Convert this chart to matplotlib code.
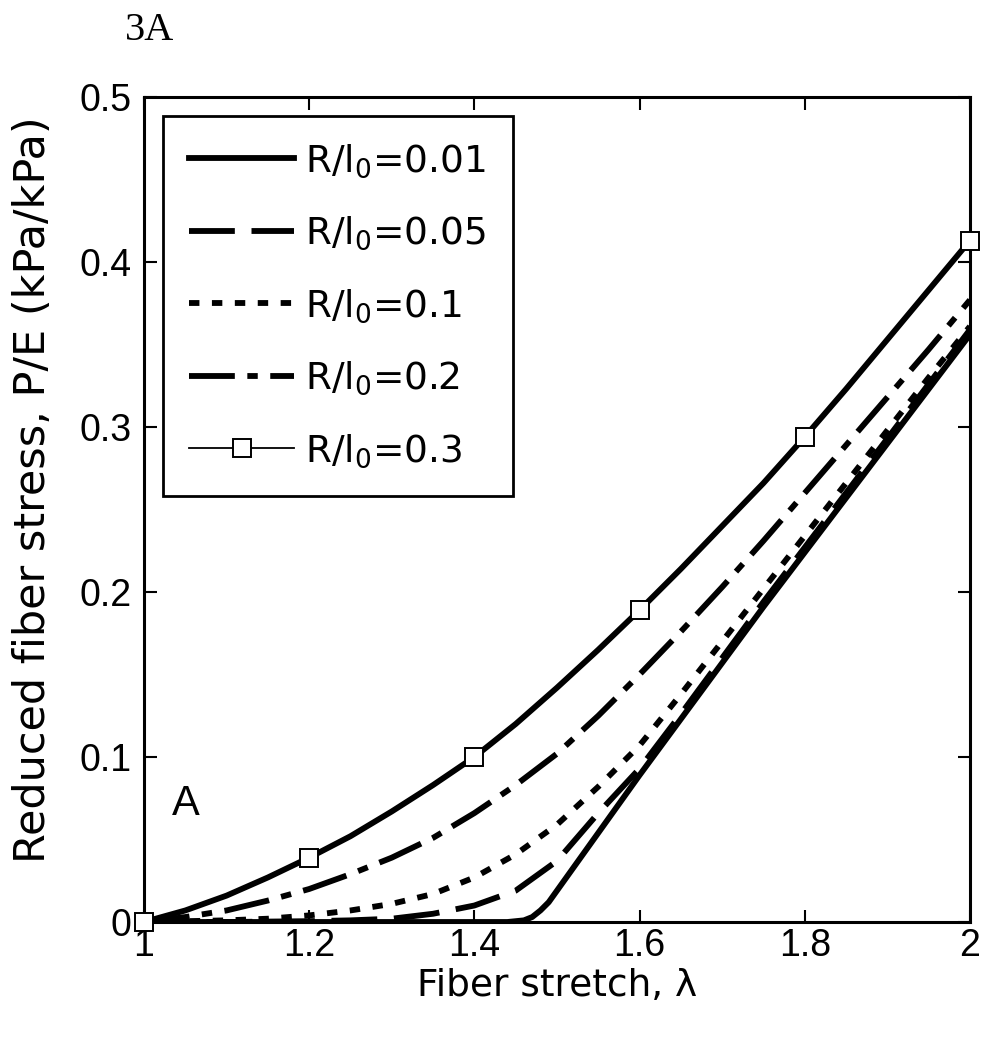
import matplotlib
matplotlib.use("Agg")
import matplotlib.pyplot as plt

plt.rcParams['font.family'] = ['Liberation Sans', 'DejaVu Sans']
plt.rcParams['mathtext.fontset'] = 'dejavusans'
plt.rcParams['lines.scale_dashes'] = False

# ---- data ----
x_fine = [1.0, 1.05, 1.1, 1.15, 1.2, 1.25, 1.3, 1.35, 1.4, 1.45, 1.5,
          1.55, 1.6, 1.65, 1.7, 1.75, 1.8, 1.85, 1.9, 1.95, 2.0]
y_r03 = [0.0, 0.007, 0.016, 0.027, 0.039, 0.052, 0.067, 0.083, 0.100, 0.120, 0.142,
         0.165, 0.189, 0.214, 0.240, 0.266, 0.294, 0.323, 0.353, 0.383, 0.413]
y_r02 = [0.0, 0.003, 0.007, 0.013, 0.020, 0.029, 0.039, 0.051, 0.066, 0.083, 0.102,
         0.125, 0.150, 0.176, 0.203, 0.231, 0.260, 0.289, 0.318, 0.347, 0.377]
y_r01 = [0.0, 0.0005, 0.001, 0.002, 0.004, 0.007, 0.011, 0.017, 0.027, 0.041, 0.059,
         0.082, 0.107, 0.138, 0.170, 0.202, 0.234, 0.266, 0.298, 0.330, 0.361]

x_r005 = [1.0, 1.1, 1.2, 1.25, 1.3, 1.35, 1.4, 1.45, 1.5, 1.55, 1.6,
          1.65, 1.7, 1.75, 1.8, 1.85, 1.9, 1.95, 2.0]
y_r005 = [0.0, 0.0, 0.0005, 0.001, 0.002, 0.005, 0.010, 0.019, 0.037, 0.066, 0.093,
          0.126, 0.160, 0.194, 0.227, 0.260, 0.293, 0.326, 0.359]

x_r001 = [1.0, 1.44, 1.46, 1.47, 1.48, 1.49, 1.5, 1.55, 1.6, 1.65, 1.7,
          1.75, 1.8, 1.85, 1.9, 1.95, 2.0]
y_r001 = [0.0, 0.0, 0.001, 0.003, 0.007, 0.012, 0.019, 0.054, 0.089, 0.123, 0.157,
          0.191, 0.224, 0.257, 0.290, 0.323, 0.356]

labels = [r'R/l$_0$=0.01', r'R/l$_0$=0.05', r'R/l$_0$=0.1', r'R/l$_0$=0.2', r'R/l$_0$=0.3']
x_ticks = [1, 1.2, 1.4, 1.6, 1.8, 2]
x_ticklabels = ['1', '1.2', '1.4', '1.6', '1.8', '2']
y_ticks = [0, 0.1, 0.2, 0.3, 0.4, 0.5]
y_ticklabels = ['0', '0.1', '0.2', '0.3', '0.4', '0.5']

FS = 27
LW = 4.2
LABEL_FONT = ['DejaVu Sans']

fig = plt.figure(figsize=(10.02, 10.5), dpi=100)
ax = fig.add_axes([0.1437, 0.1219, 0.8243, 0.7857])

ax.plot(x_fine, y_r03, color='black', lw=LW, label='_nolegend_')
ax.plot(x_r001, y_r001, color='black', lw=LW, ls='-', label=labels[0])
ax.plot(x_r005, y_r005, color='black', lw=LW, ls=(0, (33, 12)), label=labels[1])
ax.plot(x_fine, y_r01, color='black', lw=LW, ls=(0, (7.5, 9)), label=labels[2])
ax.plot(x_fine, y_r02, color='black', lw=LW, ls=(0, (33, 9, 7.5, 9)), label=labels[3])
ax.plot(x_fine, y_r03, color='black', lw=1.3, ls='-', marker='s', markersize=13,
        markerfacecolor='white', markeredgecolor='black', markeredgewidth=1.4,
        markevery=4, label=labels[4], clip_on=False, zorder=5)

ax.set_xlim(1, 2)
ax.set_ylim(0, 0.5)
ax.set_xticks(x_ticks)
ax.set_xticklabels(x_ticklabels)
ax.set_yticks(y_ticks)
ax.set_yticklabels(y_ticklabels)
ax.tick_params(direction='in', length=9, width=1.5, top=True, right=True,
               labelsize=FS, pad=9)
ax.tick_params(axis='x', pad=4)
for s in ax.spines.values():
    s.set_linewidth(2.2)

ax.set_xlabel('Fiber stretch, λ', fontsize=FS, family=LABEL_FONT, labelpad=3)
ax.set_ylabel('Reduced fiber stress, P/E (kPa/kPa)', fontsize=31, family=LABEL_FONT)
ax.yaxis.set_label_coords(-0.109, 0.524)

ax.text(1.034, 0.065, 'A', fontsize=30, ha='left', va='baseline')

leg = ax.legend(loc='upper left', bbox_to_anchor=(0.023, 0.977), borderaxespad=0,
                prop={'family': LABEL_FONT, 'size': FS},
                frameon=True, fancybox=False, edgecolor='black',
                handlelength=2.8, handletextpad=0.3, labelspacing=0.93,
                borderpad=0.7)
leg.get_frame().set_linewidth(2.0)
leg.get_frame().set_alpha(1)

fig.text(125 / 1002, 1 - 40 / 1050, '3A', fontsize=29, family='Liberation Serif',
         ha='left', va='baseline')

fig.savefig('out.png', dpi=100, facecolor='white')
